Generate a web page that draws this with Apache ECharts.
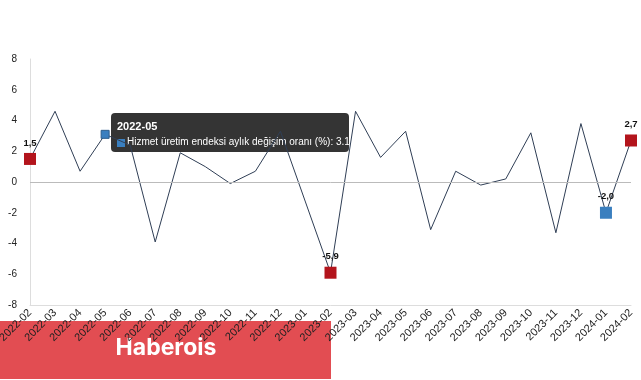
<!DOCTYPE html>
<html><head><meta charset="utf-8">
<script src="https://cdn.jsdelivr.net/npm/echarts@6/dist/echarts.min.js"></script>
<style>html,body{margin:0;padding:0;background:#fff}#c{width:641px;height:380px}</style>
</head><body><div id="c"></div>
<script>
const categories = ["2022-02","2022-03","2022-04","2022-05","2022-06","2022-07","2022-08","2022-09","2022-10","2022-11","2022-12","2023-01","2023-02","2023-03","2023-04","2023-05","2023-06","2023-07","2023-08","2023-09","2023-10","2023-11","2023-12","2024-01","2024-02"];
const values = [1.5,4.6,0.7,3.1,2.4,-3.9,1.9,1.0,-0.1,0.7,3.3,-1.3,-5.9,4.6,1.6,3.3,-3.1,0.7,-0.2,0.2,3.2,-3.3,3.8,-2.0,2.7];
const seriesName = "Hizmet üretim endeksi aylık değişim oranı (%)";
const redIdx = [0, 12, 24];
const blueIdx = [23];
const hoverIdx = 3;
const yTicks = {min: -8, max: 8, interval: 2};

const chart = echarts.init(document.getElementById('c'));
const fmt = v => String(v.toFixed(1)).replace('.', ',');
const markers = [];
redIdx.forEach(i => markers.push({value: [categories[i], values[i]], itemStyle: {color: '#b3141c', opacity: 1}, symbolSize: 12, label: {show: true}}));
blueIdx.forEach(i => markers.push({value: [categories[i], values[i]], itemStyle: {color: '#3a7fbf', opacity: 1}, symbolSize: 12, label: {show: true}}));
markers.push({value: [categories[hoverIdx], values[hoverIdx]], itemStyle: {color: '#3a7fbf', borderColor: '#2c5d8c', borderWidth: 1, opacity: 1}, symbolSize: 8, label: {show: false}});

chart.setOption({
  animation: false,
  grid: {left: 30, right: 10, top: 59, bottom: 75, containLabel: false, outerBoundsMode: 'none'},
  xAxis: {
    type: 'category', data: categories, boundaryGap: false,
    axisLine: {onZero: false, lineStyle: {color: '#ddd'}},
    axisTick: {show: false},
    axisLabel: {rotate: 45, interval: 0, color: '#222', fontSize: 11, fontFamily: 'Liberation Sans', margin: 6}
  },
  yAxis: {
    type: 'value', min: yTicks.min, max: yTicks.max, interval: yTicks.interval,
    axisLine: {show: true, lineStyle: {color: '#ddd'}},
    axisTick: {show: false},
    splitLine: {show: false},
    axisLabel: {color: '#222', fontSize: 10, fontFamily: 'Liberation Sans', margin: 13}
  },
  series: [{
    type: 'line', name: seriesName, data: values, symbol: 'none',
    lineStyle: {color: '#2f3e55', width: 1},
    markLine: {silent: true, symbol: 'none', label: {show: false}, lineStyle: {color: '#bbb', width: 1, type: 'solid'}, data: [{yAxis: 0}]},
    z: 2
  }, {
    type: 'scatter', data: markers, symbol: 'rect', z: 3,
    label: {position: 'top', distance: 5, color: '#111', fontWeight: 'bold', fontSize: 9.5, fontFamily: 'Liberation Sans', formatter: p => fmt(p.value[1])}
  }],
  graphic: [
    {type: 'group', left: 111, top: 113, z: 100, children: [
      {type: 'rect', shape: {x: 0, y: 0, width: 238, height: 39, r: 4}, style: {fill: 'rgba(30,30,30,0.9)'}},
      {type: 'text', x: 6, y: 8, style: {text: categories[hoverIdx], fill: '#fff', font: 'bold 11px "Liberation Sans"'}},
      {type: 'rect', shape: {x: 6, y: 26, width: 8, height: 8}, style: {fill: '#3a7fbf'}},
      {type: 'text', x: 16, y: 24, style: {text: seriesName + ': ' + values[hoverIdx], fill: '#fff', font: '10px "Liberation Sans"'}}
    ]},
    {type: 'group', left: 0, top: 321, z: 100, children: [
      {type: 'rect', shape: {x: 0, y: 0, width: 331, height: 58}, style: {fill: 'rgba(222,52,58,0.88)'}},
      {type: 'text', x: 166, y: 27, style: {text: 'Haberois', fill: '#fff', font: 'bold 23px Inter', align: 'center', verticalAlign: 'middle'}}
    ]}
  ]
});
</script></body></html>
